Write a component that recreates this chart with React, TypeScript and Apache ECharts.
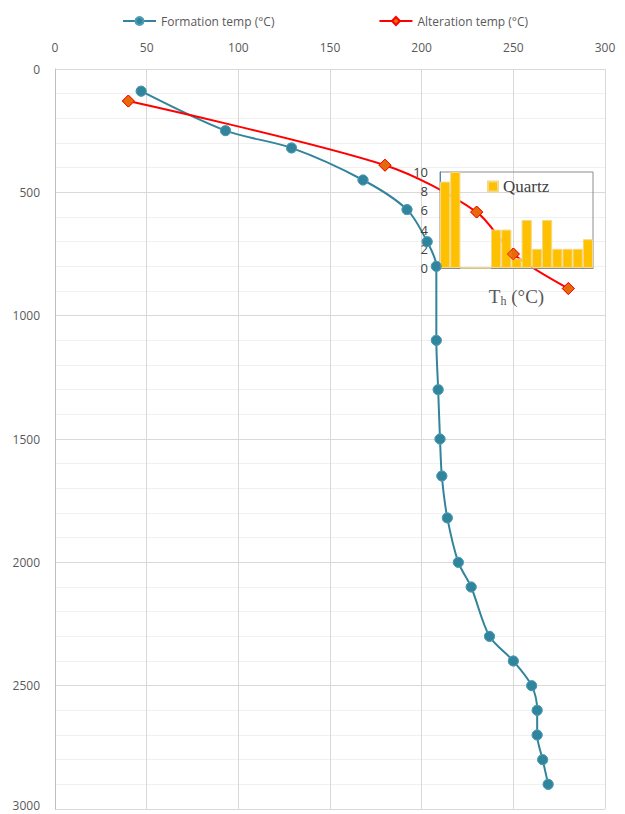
import React, { useEffect, useRef } from "react";
import * as echarts from "echarts";

const formationTemp = [47, 93, 129, 168, 192, 203, 208, 208, 209, 210, 211, 214, 220, 227, 237, 250, 260, 263, 263, 266, 269];
const formationDepth = [90, 250, 320, 450, 570, 700, 800, 1100, 1300, 1500, 1650, 1820, 2000, 2100, 2300, 2400, 2500, 2600, 2700, 2800, 2900];
const alterationTemp = [40, 180, 230, 250, 280];
const alterationDepth = [130, 390, 580, 750, 890];
const quartzBins = ["b1", "b2", "b3", "b4", "b5", "b6", "b7", "b8", "b9", "b10", "b11", "b12", "b13", "b14", "b15"];
const quartzCounts = [9, 10, 0, 0, 0, 4, 4, 1, 5, 2, 5, 2, 2, 2, 3];
const depthMax = 3000;

const SANS = "'Open Sans', 'Noto Sans', sans-serif";
const SERIF = "'Liberation Serif', 'DejaVu Serif', serif";
const BLUE = "#31849B";
const RED = "#FF0000";
const ORANGE = "#E46C0A";

export default function App() {
  const ref = useRef<HTMLDivElement>(null);
  useEffect(() => {
    if (!ref.current) return;
    const chart = echarts.init(ref.current, undefined, { renderer: "svg" });
    const formation = formationTemp.map((t, i) => [t, formationDepth[i]]);
    const alteration = alterationTemp.map((t, i) => [t, alterationDepth[i]]);
    chart.setOption({
      animation: false,
      backgroundColor: "#ffffff",
      legend: [
        {
          data: ["Formation temp (°C)", "Alteration temp (°C)"],
          left: 117,
          top: 10,
          itemWidth: 33,
          itemHeight: 10,
          itemGap: 104,
          textStyle: { fontFamily: SANS, fontSize: 12, color: "#595959" },
        },
        {
          data: ["Quartz"],
          left: 482,
          top: 173,
          icon: "rect",
          itemWidth: 10,
          itemHeight: 10,
          itemGap: 4,
          textStyle: { fontFamily: SERIF, fontSize: 17, color: "#404040" },
        },
      ],
      grid: [
        { left: 55, right: 20, top: 69, bottom: 5, outerBoundsMode: "none", containLabel: false },
        {
          left: 440,
          top: 172,
          width: 153,
          height: 96,
          show: true,
          borderColor: "#8c8c8c",
          borderWidth: 1,
          backgroundColor: "transparent",
          outerBoundsMode: "none",
          containLabel: false,
          z: 3,
        },
      ],
      xAxis: [
        {
          type: "value",
          gridIndex: 0,
          position: "top",
          min: 0,
          max: 300,
          interval: 50,
          axisLine: { show: false },
          axisTick: { show: false },
          axisLabel: { fontFamily: SANS, fontSize: 12, color: "#595959", margin: 16 },
          splitLine: { show: true, lineStyle: { color: "#d9d9d9", width: 1 } },
        },
        {
          type: "category",
          gridIndex: 1,
          data: quartzBins,
          axisLine: { show: true, lineStyle: { color: "#8c8c8c" } },
          axisTick: { show: false },
          axisLabel: { show: false },
          splitLine: { show: false },
          name: "{t|T}{s|h}{t| (°C)}",
          nameLocation: "middle",
          nameGap: 17,
          nameTextStyle: {
            rich: {
              t: { fontFamily: SERIF, fontSize: 19, color: "#595959" },
              s: { fontFamily: SERIF, fontSize: 12, color: "#595959", padding: [10, 0, 0, 0] },
            },
          },
          z: 3,
        },
      ],
      yAxis: [
        {
          type: "value",
          gridIndex: 0,
          inverse: true,
          min: 0,
          max: depthMax,
          interval: 500,
          axisLine: { show: true, lineStyle: { color: "#bfbfbf" } },
          axisTick: { show: false },
          axisLabel: {
            fontFamily: SANS,
            fontSize: 12,
            lineHeight: 12,
            color: "#595959",
            margin: 15,
            formatter: (v: number) => (v === depthMax ? "{last|" + v + "}" : String(v)),
            rich: {
              last: {
                fontFamily: SANS,
                fontSize: 12,
                lineHeight: 12,
                color: "#595959",
                padding: [0, 0, 7, 0],
              },
            },
          },
          splitLine: { show: true, lineStyle: { color: "#d9d9d9", width: 1 } },
          minorTick: { show: false, splitNumber: 5 },
          minorSplitLine: { show: true, lineStyle: { color: "#f0f0f0", width: 1 } },
        },
        {
          type: "value",
          gridIndex: 1,
          min: 0,
          max: 10,
          interval: 2,
          axisLine: { show: true, lineStyle: { color: "#4F81BD", width: 1 } },
          axisTick: { show: false },
          axisLabel: { fontFamily: SANS, fontSize: 13, color: "#404040", margin: 12 },
          splitLine: { show: false },
          z: 3,
        },
      ],
      series: [
        {
          name: "Formation temp (°C)",
          type: "line",
          xAxisIndex: 0,
          yAxisIndex: 0,
          data: formation,
          smooth: 0.3,
          symbol: "circle",
          symbolSize: 10,
          lineStyle: { color: BLUE, width: 2 },
          itemStyle: { color: BLUE, borderColor: "#4f9db5", borderWidth: 1 },
          z: 2,
        },
        {
          name: "Alteration temp (°C)",
          type: "line",
          xAxisIndex: 0,
          yAxisIndex: 0,
          data: alteration,
          smooth: 0.3,
          symbol: "diamond",
          symbolSize: 12,
          lineStyle: { color: RED, width: 2 },
          itemStyle: { color: ORANGE, borderColor: RED, borderWidth: 1 },
          z: 2,
        },
        {
          name: "Quartz",
          type: "bar",
          xAxisIndex: 1,
          yAxisIndex: 1,
          data: quartzCounts,
          barCategoryGap: 0,
          itemStyle: { color: "#FFC000", borderColor: "#F3D88A", borderWidth: 1 },
          z: 3,
        },
        {
          name: "formationMarkers",
          type: "scatter",
          xAxisIndex: 0,
          yAxisIndex: 0,
          data: formation,
          symbol: "circle",
          symbolSize: 10,
          itemStyle: { color: BLUE, borderColor: "#4f9db5", borderWidth: 1 },
          z: 5,
        },
        {
          name: "alterationMarkers",
          type: "scatter",
          xAxisIndex: 0,
          yAxisIndex: 0,
          data: alteration,
          symbol: "diamond",
          symbolSize: 12,
          itemStyle: { color: ORANGE, borderColor: RED, borderWidth: 1 },
          z: 5,
        },
      ],
    });
    return () => chart.dispose();
  }, []);
  return (
    <div
      ref={ref}
      style={{ position: "fixed", left: 0, top: 0, width: 625, height: 814, background: "#fff" }}
    />
  );
}
